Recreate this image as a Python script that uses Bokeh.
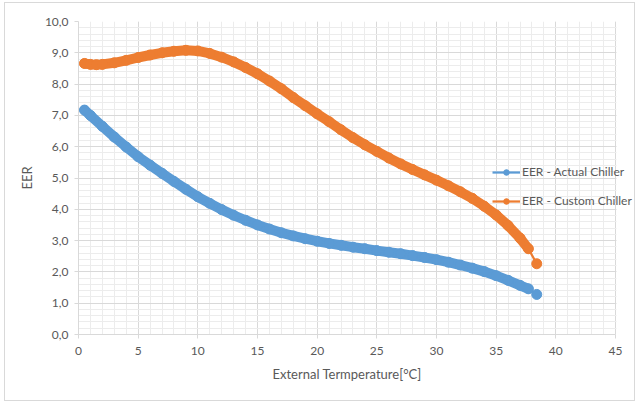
from bokeh.plotting import figure
from bokeh.models import (FixedTicker, CustomJSTickFormatter, Legend, LegendItem, Range1d,
                          BoxAnnotation, Title)
from bokeh.embed import file_html
from bokeh.resources import INLINE

# ---- data ----
temp_actual = [0.5, 1, 2, 3, 4, 5, 6, 7, 8, 9, 10, 11, 12, 13, 14, 15, 16, 17, 18, 19, 20,
               21, 22, 23, 24, 25, 26, 27, 28, 29, 30, 31, 32, 33, 34, 35, 36, 37, 37.7, 38.4]
eer_actual = [7.17, 7.00, 6.65, 6.31, 5.99, 5.68, 5.41, 5.15, 4.89, 4.64, 4.40, 4.19, 3.99, 3.81,
              3.65, 3.50, 3.37, 3.25, 3.15, 3.06, 2.98, 2.91, 2.85, 2.79, 2.74, 2.68, 2.63, 2.58,
              2.52, 2.46, 2.39, 2.31, 2.22, 2.12, 2.01, 1.88, 1.73, 1.57, 1.46, 1.28]

temp_custom = [0.5, 1, 1.5, 2, 3, 4, 5, 6, 7, 8, 9, 10, 11, 12, 13, 14, 15, 16, 17, 18, 19, 20,
               21, 22, 23, 24, 25, 26, 27, 28, 29, 30, 31, 32, 33, 34, 35, 36, 37, 37.7, 38.4]
eer_custom = [8.66, 8.63, 8.62, 8.63, 8.68, 8.76, 8.85, 8.93, 9.00, 9.05, 9.08, 9.06, 8.98, 8.86,
              8.71, 8.53, 8.33, 8.10, 7.85, 7.57, 7.31, 7.05, 6.80, 6.54, 6.29, 6.06, 5.85, 5.64,
              5.45, 5.27, 5.10, 4.93, 4.75, 4.56, 4.35, 4.10, 3.82, 3.48, 3.08, 2.74, 2.26]

x_ticks = [0, 5, 10, 15, 20, 25, 30, 35, 40, 45]
y_ticks = [0, 1, 2, 3, 4, 5, 6, 7, 8, 9, 10]
x_minor = list(range(0, 46))
y_minor = [i / 5 for i in range(0, 51)]

series_names = ["EER - Actual Chiller", "EER - Custom Chiller"]
x_title = "External Termperature[°C]"
y_title = "EER"
colors = ["#5B9BD5", "#ED7D31"]

FONT = "Lato"
TXT = "#595959"
GRID = "#d9d9d9"

X_MAX = 45
# frame extends a little past 45 so the legend text is not clipped
extra_px = 20
x_end = X_MAX + extra_px / 11.934

p = figure(width=631, height=399, output_backend="svg", toolbar_location=None,
           x_range=Range1d(0, x_end), y_range=Range1d(0, 10),
           min_border_left=73, min_border_right=1, min_border_top=18, min_border_bottom=68)
p.styles = {"margin": "2px 0 0 4px", "border": "1px solid #d9d9d9"}
p.outline_line_color = None
p.background_fill_color = "white"
p.border_fill_color = "white"

p.xaxis.ticker = FixedTicker(ticks=x_ticks, minor_ticks=x_minor)
p.yaxis.ticker = FixedTicker(ticks=y_ticks, minor_ticks=y_minor)
p.yaxis.formatter = CustomJSTickFormatter(code="return tick.toFixed(1).replace('.', ',');")
p.xaxis.bounds = (0, X_MAX)

for ax in (p.xaxis[0], p.yaxis[0]):
    ax.axis_line_color = GRID
    ax.major_tick_line_color = GRID
    ax.major_tick_out = 4
    ax.major_tick_in = 0
    ax.minor_tick_line_color = None
    ax.major_label_text_font = FONT
    ax.major_label_text_font_size = "12px"
    ax.major_label_text_color = TXT
    ax.axis_label_text_font = FONT
    ax.axis_label_text_font_size = "13px"
    ax.axis_label_text_font_style = "normal"
    ax.axis_label_text_color = TXT

p.yaxis.axis_label = y_title
p.xaxis.major_label_standoff = 8
p.yaxis.major_label_standoff = 6
p.yaxis.axis_label_standoff = 7

# x-axis title centred under the 0..45 span (frame is slightly wider)
p.add_layout(Title(text=x_title, align="left", offset=194, standoff=12,
                   text_font=FONT, text_font_size="13px", text_font_style="normal",
                   text_color=TXT), "below")

for g in (p.xgrid[0], p.ygrid[0]):
    g.grid_line_color = GRID
    g.grid_line_width = 1
    g.minor_grid_line_color = "#ececec"
    g.minor_grid_line_width = 1

# blank out horizontal grid beyond the last x tick
p.add_layout(BoxAnnotation(left=X_MAX + 0.08, fill_color="white", fill_alpha=1,
                           line_color=None, level="underlay"))

items = []
for tx, ey, name, c in [(temp_actual, eer_actual, series_names[0], colors[0]),
                        (temp_custom, eer_custom, series_names[1], colors[1])]:
    p.line(tx[:-1], ey[:-1], line_width=10, line_color=c, line_cap="round", line_join="round")
    thin = p.line(tx, ey, line_width=2.25, line_color=c)
    dots = p.scatter(tx, ey, size=10, marker="circle", fill_color=c, line_color=c)
    items.append(LegendItem(label=name, renderers=[thin, dots]))

legend = Legend(items=items, location=(414, 126), orientation="vertical",
                border_line_color=None, background_fill_alpha=0,
                padding=0, margin=0, spacing=14, glyph_width=28, glyph_height=14,
                label_height=14, label_standoff=2,
                label_text_font=FONT, label_text_font_size="12px", label_text_color=TXT)
p.add_layout(legend)

open("out.html", "w").write(file_html(p, INLINE))
